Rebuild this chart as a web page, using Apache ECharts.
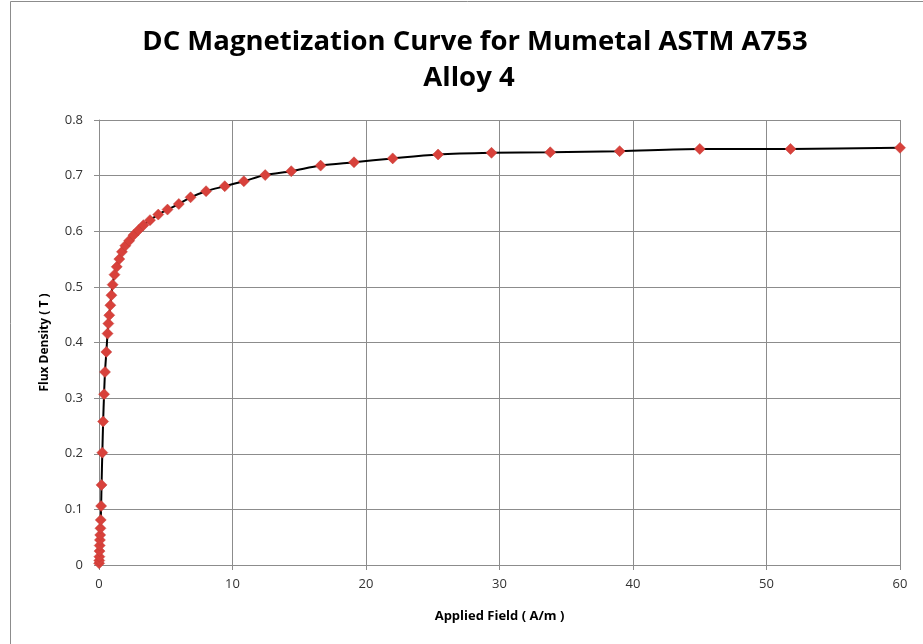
<!DOCTYPE html>
<html>
<head>
<meta charset="utf-8">
<script src="https://cdn.jsdelivr.net/npm/echarts@6/dist/echarts.min.js"></script>
<style>
html,body{margin:0;padding:0;background:#fff;}
#chart{width:923px;height:644px;}
</style>
</head>
<body>
<div id="chart"></div>
<script>
var titleLines = ['DC Magnetization Curve for Mumetal ASTM A753', 'Alloy 4'];
var xAxisName = 'Applied Field ( A/m )';
var yAxisName = 'Flux Density ( T )';
var appliedField = [0.01,0.02,0.03,0.04,0.05,0.07,0.09,0.11,0.13,0.16,0.19,0.25,0.31,0.38,0.45,0.55,0.64,0.70,0.77,0.85,0.93,1.02,1.16,1.33,1.52,1.72,1.97,2.26,2.58,2.95,3.33,3.82,4.44,5.13,5.98,6.86,8.02,9.42,10.85,12.45,14.4,16.6,19.1,22.0,25.4,29.4,33.8,39.0,45.0,51.8,60.0];
var fluxDensity = [0.003,0.008,0.015,0.025,0.035,0.045,0.054,0.066,0.081,0.106,0.144,0.202,0.258,0.307,0.347,0.383,0.416,0.434,0.449,0.467,0.485,0.504,0.522,0.536,0.550,0.563,0.574,0.583,0.593,0.602,0.611,0.620,0.630,0.639,0.649,0.661,0.672,0.681,0.690,0.701,0.708,0.718,0.724,0.731,0.738,0.741,0.742,0.744,0.748,0.748,0.750];

var points = appliedField.map(function(h, i){ return [h, fluxDensity[i]]; });

var chart = echarts.init(document.getElementById('chart'), null, {renderer:'canvas'});
var font = '"Open Sans", "Noto Sans", sans-serif';
var titleStyle = {fontFamily: font, fontWeight: 'bold', fontSize: 27.5, fill: '#000', textAlign: 'center', textVerticalAlign: 'middle'};
chart.setOption({
  animation: false,
  backgroundColor: '#fff',
  graphic: [{
    type: 'rect',
    shape: {x: 10.5, y: 1.5, width: 1000, height: 1000},
    style: {fill: 'none', stroke: '#8c8c8c', lineWidth: 1},
    silent: true
  }, {
    type: 'text', x: 475, y: 42, silent: true,
    style: Object.assign({text: titleLines[0]}, titleStyle)
  }, {
    type: 'text', x: 469, y: 78, silent: true,
    style: Object.assign({text: titleLines[1]}, titleStyle)
  }],
  grid: {left: 99, right: 23, top: 120, bottom: 79},
  xAxis: {
    type: 'value', min: 0, max: 60, interval: 10,
    name: xAxisName, nameLocation: 'middle', nameGap: 45,
    nameTextStyle: {fontFamily: font, fontWeight: 'bold', fontSize: 13, color: '#000'},
    axisLine: {lineStyle: {color: '#8c8c8c', width: 1}},
    axisTick: {show: true, length: 5, lineStyle: {color: '#8c8c8c'}},
    axisLabel: {fontFamily: font, fontSize: 13, color: '#333', margin: 13},
    splitLine: {show: true, lineStyle: {color: '#8c8c8c', width: 1}}
  },
  yAxis: {
    type: 'value', min: 0, max: 0.8, interval: 0.1,
    name: yAxisName, nameLocation: 'middle', nameGap: 48, nameRotate: 90,
    nameTextStyle: {fontFamily: font, fontWeight: 'bold', fontSize: 12, color: '#000'},
    axisLine: {show: true, lineStyle: {color: '#8c8c8c', width: 1}},
    axisTick: {show: true, length: 5, lineStyle: {color: '#8c8c8c'}},
    axisLabel: {fontFamily: font, fontSize: 13, color: '#333', margin: 16,
      formatter: function(v){ return v === 0 ? '0' : v.toFixed(1); }},
    splitLine: {show: true, lineStyle: {color: '#8c8c8c', width: 1}}
  },
  series: [{
    type: 'line',
    data: points,
    smooth: 0.3,
    lineStyle: {color: '#000', width: 2},
    symbol: 'diamond',
    symbolSize: [11, 11],
    itemStyle: {color: '#d8413b', borderColor: '#c23a34', borderWidth: 0.5},
    z: 3
  }]
});
</script>
</body>
</html>
